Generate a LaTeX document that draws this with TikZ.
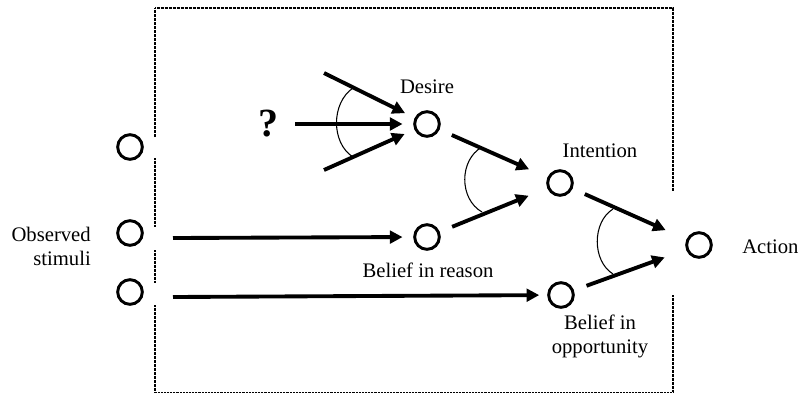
\documentclass[tikz,border=0pt]{standalone}
\usepackage{fontspec}
\setmainfont{Liberation Serif}
\usetikzlibrary{arrows.meta}
\begin{document}
\begin{tikzpicture}[x=0.75pt,y=-0.75pt,
  state/.style={circle,draw,line width=2.2pt,minimum size=18.5pt,inner sep=0pt},
  lbl/.style={font=\fontsize{15.5}{18}\selectfont,inner sep=0pt},
  arr/.style={line width=2.9pt,-{Triangle[length=9.5pt,width=9.5pt]}},
  wire/.style={line width=0.8pt},
  boxside/.style={line width=1.5pt,dash pattern=on 0.55pt off 0.45pt},
  boxbottom/.style={line width=0.7pt,dash pattern=on 0.6pt off 0.5pt}]
\useasboundingbox (0,0) rectangle (799,394);
% frame
\draw[boxside] (155,137) -- (155,8) -- (673,8) -- (673,191);
\draw[boxside] (155,158) -- (155,227);
\draw[boxside] (155,250) -- (155,283);
\draw[boxside] (155,305) -- (155,392);
\draw[boxside] (673,295) -- (673,392);
\draw[boxbottom] (155,392) -- (673,392);
% nodes
\node[state] (s1) at (130,147) {};
\node[state] (s2) at (130,233) {};
\node[state] (s3) at (130,292) {};
\node[state] (desire) at (427,124) {};
\node[state] (breason) at (427,237) {};
\node[state] (intent) at (560,183) {};
\node[state] (bopp) at (561,295) {};
\node[state] (action) at (699,245) {};
% labels
\node[lbl,anchor=base] (tdesire) at (427,93) {Desire};
\node[lbl,anchor=base] (tintent) at (600,157) {Intention};
\node[lbl,anchor=base] (tbreason) at (428,277) {Belief in reason};
\node[lbl,anchor=base,align=center] (tbopp) at (600,353) {Belief in\\opportunity};
\node[lbl,anchor=base east,align=right] (tstim) at (91,265) {Observed\\stimuli};
\node[lbl,anchor=base west] (taction) at (742,253) {Action};
\node[font=\fontsize{30}{34}\selectfont\bfseries,inner sep=0pt] (q) at (268,124) {?};
% free ends
\coordinate (d1) at (324,73);
\coordinate (d2) at (295,124);
\coordinate (d3) at (324,170);
\coordinate (a2) at (173,238);
\coordinate (a3) at (173,297);
% arrows
\draw[arr,shorten >=8pt] (d1) -- (desire);
\draw[arr,shorten >=8pt] (d2) -- (desire);
\draw[arr,shorten >=8pt] (d3) -- (desire);
\draw[arr,shorten >=8pt] (a2) -- (breason.center -| breason.west);
\draw[arr,shorten >=6pt] (a3) -- (bopp);
\draw[arr,shorten <=10pt,shorten >=15pt] (desire) -- (intent);
\draw[arr,shorten <=10pt,shorten >=15pt] (breason) -- (intent);
\draw[arr,shorten <=10pt,shorten >=17pt] (intent) -- (action);
\draw[arr,shorten <=10pt,shorten >=17pt] (bopp) -- (action);
% AND arcs
\draw[wire] (353,88) .. controls (331,103) and (331,143) .. (353,157);
\draw[wire] (482,147) .. controls (459,160) and (459,199) .. (482,212);
\draw[wire] (613,209) .. controls (592,222) and (592,261) .. (613,274);
\end{tikzpicture}
\end{document}
